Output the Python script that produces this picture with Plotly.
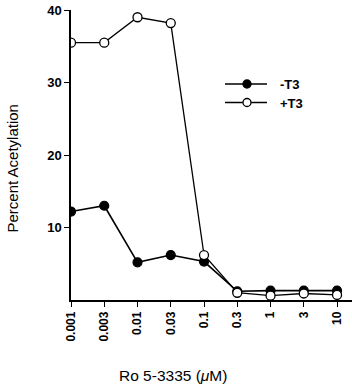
import plotly.graph_objects as go

conc_labels = ["0.001", "0.003", "0.01", "0.03", "0.1", "0.3", "1", "3", "10"]
minus_t3 = [12.2, 13.0, 5.2, 6.2, 5.3, 1.2, 1.3, 1.3, 1.3]
plus_t3 = [35.5, 35.5, 39.0, 38.2, 6.2, 1.0, 0.6, 0.9, 0.7]
y_ticks = [10, 20, 30, 40]
series_names = ["-T3", "+T3"]

xpos = list(range(len(conc_labels)))
FONT = "Liberation Sans, Arial, sans-serif"

# plot area in pixels (for legend/title placement)
L, T, W, H = 71, 10, 281, 290


def px(xp):
    return (xp - L) / W


def py(yp):
    return (T + H - yp) / H


fig = go.Figure()
fig.add_trace(go.Scatter(
    x=xpos, y=minus_t3, name=series_names[0], mode="lines+markers",
    line=dict(color="black", width=1.6),
    marker=dict(symbol="circle", size=9, color="black", line=dict(color="black", width=1.2)),
))
fig.add_trace(go.Scatter(
    x=xpos, y=plus_t3, name=series_names[1], mode="lines+markers",
    line=dict(color="black", width=1.3),
    marker=dict(symbol="circle", size=9, color="white", line=dict(color="black", width=1.3)),
))

# manual legend
shapes = []
annotations = []
legend_rows = [(84, "black"), (102.5, "white")]
for (yrow, fill), name in zip(legend_rows, series_names):
    shapes.append(dict(type="line", xref="paper", yref="paper",
                       x0=px(225), x1=px(267), y0=py(yrow), y1=py(yrow),
                       line=dict(color="black", width=1.5), layer="above"))
    shapes.append(dict(type="circle", xref="paper", yref="paper",
                       x0=px(247 - 4), x1=px(247 + 4), y0=py(yrow + 4), y1=py(yrow - 4),
                       fillcolor=fill, line=dict(color="black", width=1.3), layer="above"))
    annotations.append(dict(text=name, xref="paper", yref="paper",
                            x=px(278), y=py(yrow + 1), xanchor="left", yanchor="middle",
                            showarrow=False,
                            font=dict(family=FONT, size=13, color="black", weight="bold")))

annotations += [
    dict(text="Percent Acetylation", xref="paper", yref="paper",
         x=px(12), y=py(168.5), textangle=-90,
         showarrow=False, font=dict(family=FONT, size=15, color="black"),
         xanchor="center", yanchor="middle"),
    dict(text="Ro 5-3335 (<i>μ</i>M)", xref="paper", yref="paper",
         x=px(172.5), y=py(375),
         showarrow=False, font=dict(family=FONT, size=15.5, color="black"),
         xanchor="center", yanchor="middle"),
]

fig.update_layout(
    width=352, height=384,
    margin=dict(l=L, r=352 - L - W, t=T, b=384 - T - H),
    paper_bgcolor="white", plot_bgcolor="white",
    font=dict(family=FONT, color="black"),
    showlegend=False,
    xaxis=dict(
        range=[0, 8.45], tickvals=xpos, ticktext=conc_labels,
        tickangle=-90, ticks="outside", ticklen=5, tickwidth=1.2, tickcolor="black",
        showline=True, linecolor="black", linewidth=1.5,
        showgrid=False, zeroline=False,
        tickfont=dict(family=FONT, size=12, color="black", weight="bold"),
    ),
    yaxis=dict(
        range=[0, 40], tickvals=y_ticks,
        ticks="outside", ticklen=5, tickwidth=1.2, tickcolor="black",
        showline=True, linecolor="black", linewidth=1.5,
        showgrid=False, zeroline=False,
        tickfont=dict(family=FONT, size=13, color="black", weight="bold"),
    ),
    shapes=shapes,
    annotations=annotations,
)

fig.write_html("out.html")
